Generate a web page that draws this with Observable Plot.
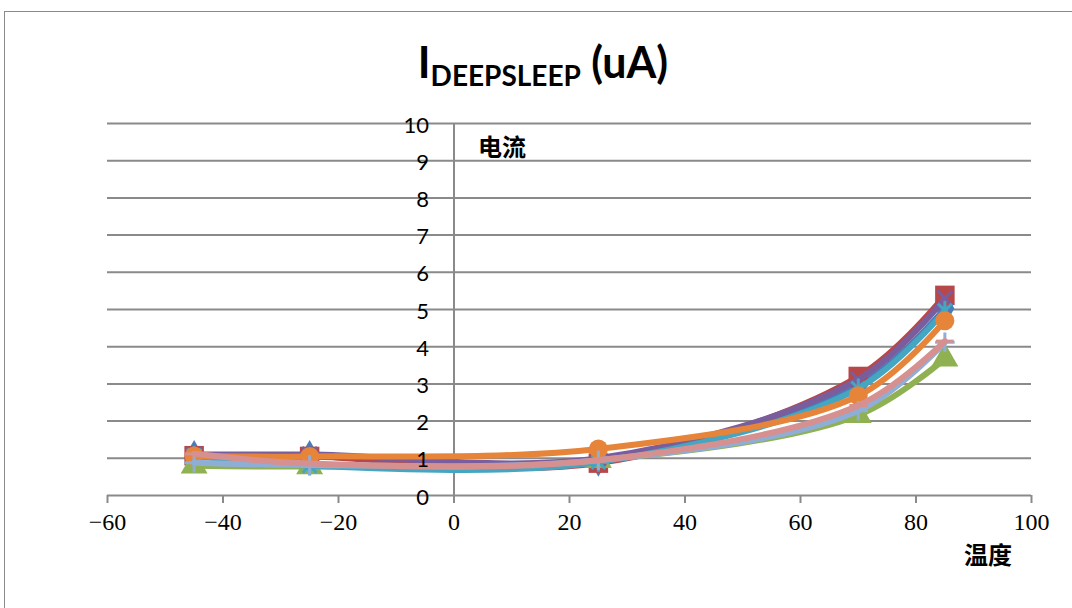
<!DOCTYPE html>
<html><head><meta charset="utf-8">
<script src="https://cdn.jsdelivr.net/npm/d3@7"></script>
<script src="https://cdn.jsdelivr.net/npm/@observablehq/plot@0.6"></script>
<style>
body{margin:0;background:#fff;}
#wrap{position:relative;width:1072px;height:608px;overflow:hidden;background:#fff;}
#frame{position:absolute;left:4px;top:11px;width:1200px;height:800px;border:1.5px solid #8a8a8a;box-sizing:border-box;}
#title{position:absolute;left:0;width:1086px;top:36px;text-align:center;font-family:Lato,"Liberation Sans",sans-serif;font-weight:bold;font-size:43px;color:#000;white-space:nowrap;}
#title sub{font-size:28px;vertical-align:-8px;}
.lab{position:absolute;font-family:"Noto Sans CJK SC",sans-serif;font-weight:bold;font-size:24px;line-height:1;color:#000;}
#chart{position:absolute;left:0;top:0;}
</style></head>
<body>
<div id="wrap">
  <div id="frame"></div>
  <div id="chart"></div>
  <div id="title">I<sub>DEEPSLEEP</sub> (uA)</div>
  <div class="lab" style="left:478px;top:134px;">电流</div>
  <div class="lab" style="left:964px;top:542px;">温度</div>
</div>
<script>
// Temperatures (x) at which each sample was measured
const temps = [-45, -25, 25, 70, 85];
// Current (uA) per series
const s1 = [1.05, 1.05, 0.95, 2.95, 5.03];
const s2 = [1.07, 1.05, 0.87, 3.20, 5.38];
const s3 = [0.80, 0.78, 0.95, 2.16, 3.68];
const s4 = [1.10, 1.10, 1.00, 3.12, 5.30];
const s5 = [1.07, 0.80, 0.90, 2.88, 4.97];
const s6 = [1.06, 1.05, 1.25, 2.68, 4.70];
const s7 = [0.88, 0.82, 0.95, 2.28, 4.12];
const s8 = [1.12, 0.86, 0.95, 2.42, 4.15];
const seriesNames = ["1", "2", "3", "4", "5", "6", "7", "8"];
const seriesValues = [s1, s2, s3, s4, s5, s6, s7, s8];
const seriesColors = ["#4A7DB8", "#B8474A", "#8FB152", "#7A5D9C", "#45A6C2", "#E6843A", "#8FAED6", "#D5908F"];
const xTicks = [-60, -40, -20, 0, 20, 40, 60, 80, 100];
const yTicks = [0, 1, 2, 3, 4, 5, 6, 7, 8, 9, 10];

// custom marker shapes (Excel style)
const starSym = {draw(ctx, size) {
  const r = Math.sqrt(size) * 0.55, d = r * 0.7071;
  ctx.moveTo(0, -r); ctx.lineTo(0, r);
  ctx.moveTo(-d, -d); ctx.lineTo(d, d);
  ctx.moveTo(-d, d); ctx.lineTo(d, -d);
}};
const xSym = {draw(ctx, size) {
  const d = Math.sqrt(size) * 0.42;
  ctx.moveTo(-d, -d); ctx.lineTo(d, d);
  ctx.moveTo(-d, d); ctx.lineTo(d, -d);
}};
const plusSym = {draw(ctx, size) {
  const r = Math.sqrt(size) * 0.55;
  ctx.moveTo(0, -r); ctx.lineTo(0, r);
  ctx.moveTo(-r, 0); ctx.lineTo(r, 0);
}};
const dashSym = {draw(ctx, size) {
  const r = Math.sqrt(size) * 0.5;
  ctx.moveTo(-r, 0); ctx.lineTo(r, 0);
}};
const markers = [
  {symbol: "diamond", filled: true, r: 10},
  {symbol: "square", filled: true, r: 11},
  {symbol: "triangle", filled: true, r: 10},
  {symbol: xSym, filled: false, r: 10},
  {symbol: starSym, filled: false, r: 10},
  {symbol: "circle", filled: true, r: 9.5},
  {symbol: plusSym, filled: false, r: 10},
  {symbol: dashSym, filled: false, r: 10}
];

const rows = [];
seriesNames.forEach((name, i) => {
  seriesValues[i].forEach((v, j) => rows.push({series: name, idx: i, t: temps[j], v}));
});

const marks = [
  Plot.ruleY(yTicks, {stroke: "#8a8a8a", strokeWidth: 2}),
  Plot.ruleX([0], {y1: 0, y2: 10, stroke: "#8a8a8a", strokeWidth: 2}),
  Plot.axisX(xTicks, {tickSize: 8, tickPadding: 9, stroke: "#8a8a8a", strokeWidth: 2,
    fontSize: 24, fontFamily: "'Liberation Serif', 'DejaVu Serif', serif", fill: "#000",
    tickFormat: d => d < 0 ? "\u2212" + Math.abs(d) : String(d), label: null})
];
seriesNames.forEach((name, i) => {
  const data = rows.filter(r => r.idx === i);
  const c = seriesColors[i], m = markers[i];
  marks.push(Plot.line(data, {x: "t", y: "v", stroke: c, strokeWidth: 6, curve: "catmull-rom"}));
  marks.push(Plot.dot(data, m.filled
    ? {x: "t", y: "v", symbol: () => m.symbol, r: m.r, fill: c, stroke: "none"}
    : {x: "t", y: "v", symbol: () => m.symbol, r: m.r, fill: "none", stroke: c, strokeWidth: 3}));
});
marks.push(Plot.text(yTicks, {x: () => 0, y: d => d, text: d => String(d), textAnchor: "end", dx: -25, dy: 2,
  fontSize: 22, fontFamily: "Lato, 'Liberation Sans', sans-serif", fill: "#000"}));

const chart = Plot.plot({
  width: 1072, height: 608,
  marginLeft: 107, marginRight: 41, marginTop: 123, marginBottom: 113,
  x: {type: "linear", domain: [-60, 100], axis: null},
  y: {type: "linear", domain: [0, 10], axis: null},
  symbol: {type: "identity"},
  style: {background: "transparent", overflow: "visible"},
  marks
});
document.getElementById("chart").appendChild(chart);
</script>
</body></html>
